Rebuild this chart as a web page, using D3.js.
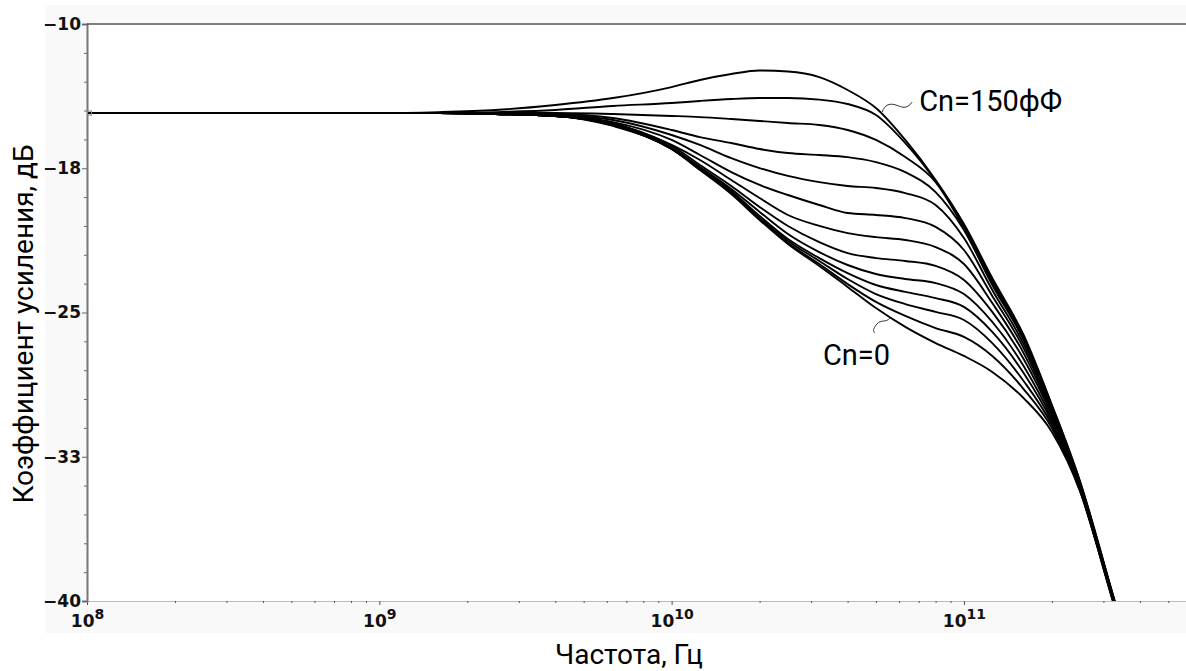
<!DOCTYPE html>
<html>
<head>
<meta charset="utf-8">
<script src="https://cdn.jsdelivr.net/npm/d3@7"></script>
<style>
  body { margin: 0; background: #fff; }
  svg { display: block; }
</style>
</head>
<body>
<div id="chart"></div>
<script>
let width = 1186;
let height = 671;
let margin = ({top: 24, right: 0, bottom: 70, left: 87});

// частота, Гц (общая сетка для всех кривых)
let freqs = [1e8, 1e9, 1.6e9, 2.5e9, 4e9, 6.3e9, 1e10, 1.25e10, 1.6e10, 2e10, 2.5e10, 3.2e10,
             4e10, 5e10, 6.3e10, 8e10, 1e11, 1.25e11, 1.6e11, 2e11, 2.5e11, 3.2e11, 3.5e11];

// коэффициент усиления, дБ — сверху (Cn=150фФ) вниз (Cn=0)
let curve1  = [-14.63,-14.63,-14.58,-14.47,-14.21,-13.85,-13.28,-12.91,-12.60,-12.42,-12.47,-12.76,-13.43,-14.37,-16.03,-18.11,-20.40,-23.21,-26.17,-29.81,-33.81,-39.43,-41.51];
let curve2  = [-14.63,-14.63,-14.63,-14.58,-14.47,-14.26,-14.11,-14.00,-13.90,-13.85,-13.85,-13.93,-14.16,-14.73,-16.19,-18.16,-20.45,-23.31,-26.27,-29.86,-33.86,-39.48,-41.51];
let curve3  = [-14.63,-14.63,-14.63,-14.63,-14.63,-14.68,-14.78,-14.84,-14.94,-15.04,-15.15,-15.25,-15.51,-16.03,-16.92,-18.22,-20.61,-23.47,-26.38,-29.91,-33.92,-39.48,-41.51];
let curve4  = [-14.63,-14.63,-14.63,-14.65,-14.68,-14.89,-15.51,-15.88,-16.19,-16.50,-16.71,-16.81,-16.92,-17.18,-17.70,-18.74,-20.71,-23.57,-26.43,-29.97,-33.97,-39.53,-41.56];
let curve5  = [-14.63,-14.63,-14.63,-14.65,-14.73,-14.99,-15.77,-16.29,-16.97,-17.49,-17.90,-18.22,-18.42,-18.53,-18.79,-19.41,-21.13,-23.83,-26.64,-30.07,-34.02,-39.53,-41.56];
let curve6  = [-14.63,-14.63,-14.63,-14.68,-14.78,-15.10,-16.03,-16.81,-17.70,-18.37,-18.89,-19.41,-19.83,-19.93,-20.09,-20.55,-21.75,-24.14,-26.85,-30.17,-34.07,-39.58,-41.61];
let curve7  = [-14.63,-14.63,-14.63,-14.68,-14.78,-15.15,-16.29,-17.07,-18.11,-19.05,-19.93,-20.50,-20.87,-21.08,-21.23,-21.60,-22.48,-24.51,-27.11,-30.28,-34.13,-39.58,-41.61];
let curve8  = [-14.63,-14.63,-14.63,-14.68,-14.78,-15.20,-16.34,-17.33,-18.42,-19.51,-20.50,-21.34,-21.91,-22.17,-22.32,-22.58,-23.31,-24.97,-27.42,-30.38,-34.13,-39.64,-41.66];
let curve9  = [-14.63,-14.63,-14.63,-14.68,-14.78,-15.25,-16.45,-17.44,-18.58,-19.77,-20.92,-21.86,-22.53,-23.00,-23.26,-23.47,-24.04,-25.49,-27.78,-30.54,-34.18,-39.64,-41.66];
let curve10 = [-14.63,-14.63,-14.63,-14.68,-14.78,-15.25,-16.45,-17.49,-18.68,-19.98,-21.18,-22.17,-22.95,-23.57,-23.93,-24.25,-24.71,-26.01,-28.15,-30.69,-34.23,-39.69,-41.71];
let curve11 = [-14.63,-14.63,-14.63,-14.68,-14.78,-15.25,-16.50,-17.54,-18.74,-20.09,-21.28,-22.32,-23.26,-24.04,-24.56,-24.97,-25.39,-26.59,-28.56,-30.85,-34.28,-39.74,-41.71];
let curve12 = [-14.63,-14.63,-14.63,-14.68,-14.78,-15.25,-16.50,-17.54,-18.79,-20.14,-21.39,-22.48,-23.52,-24.45,-25.18,-25.81,-26.27,-27.26,-28.98,-31.01,-34.28,-39.74,-41.77];
let curve13 = [-14.63,-14.63,-14.63,-14.68,-14.78,-15.30,-16.50,-17.59,-18.84,-20.19,-21.44,-22.58,-23.67,-24.77,-25.75,-26.59,-27.26,-28.09,-29.45,-31.21,-34.33,-39.79,-41.77];

let curves = [curve1, curve2, curve3, curve4, curve5, curve6, curve7, curve8, curve9, curve10, curve11, curve12, curve13];

let yTicks = [-10, -17.5, -25, -32.5, -40];
let yTickLabels = ["\u221210", "\u221218", "\u221225", "\u221233", "\u221240"];
let xMajor = [1e8, 1e9, 1e10, 1e11];

// подписи к кривым
let notes = [
    {text: "Cn=150фФ", f: 5.25e10, db: -14.58, dx: 37, dy: -1, side: 1},
    {text: "Cn=0", f: 5.58e10, db: -25.29, dx: -67, dy: 47, side: -1}
];

let svg = d3.select("#chart")
    .append("svg")
    .attr("width", width)
    .attr("height", height)
    .attr("viewBox", [0, 0, width, height]);

let x = d3.scaleLog()
    .domain([1e8, 5.75e11])
    .range([margin.left, width - margin.right]);
let y = d3.scaleLinear()
    .domain([-40, -10])
    .range([height - margin.bottom, margin.top]);

// серый фон панели и белое поле графика
svg.append("rect")
    .attr("x", 45).attr("y", 5)
    .attr("width", width - 45).attr("height", height - margin.bottom + 32 - 5)
    .attr("fill", "#f9f9f9");
svg.append("rect")
    .attr("x", margin.left).attr("y", margin.top)
    .attr("width", width - margin.left - margin.right)
    .attr("height", height - margin.bottom - margin.top)
    .attr("fill", "#fff");

svg.append("clipPath").attr("id", "clip")
    .append("rect")
    .attr("x", margin.left).attr("y", margin.top)
    .attr("width", width - margin.left - margin.right)
    .attr("height", height - margin.bottom - margin.top);

// x axis
let xMinor = [];
xMajor.forEach(dec => { for (let k = 2; k <= 9; k++) if (k * dec <= x.domain()[1]) xMinor.push(k * dec); });

let gxMinor = svg.append("g")
    .attr("transform", `translate(0,${height - margin.bottom})`)
    .call(d3.axisBottom(x).tickValues(xMinor).tickSize(2).tickFormat(""));
gxMinor.select(".domain").attr("stroke", "#bbb");
gxMinor.selectAll(".tick line").attr("stroke", "#555");

let gx = svg.append("g")
    .attr("transform", `translate(0,${height - margin.bottom})`)
    .call(d3.axisBottom(x).tickValues(xMajor).tickSize(4).tickFormat(""));
gx.select(".domain").remove();
gx.selectAll(".tick line").attr("stroke", "#555");
gx.selectAll(".tick").append("text")
    .attr("y", 26)
    .attr("fill", "#111")
    .attr("text-anchor", "middle")
    .style("font", "bold 17px 'DejaVu Sans'")
    .each(function(d) {
        let t = d3.select(this);
        t.append("tspan").text("10");
        t.append("tspan").attr("dy", -8).style("font-size", "14px").text(Math.round(Math.log10(d)));
    });

// y axis
let yMinor = d3.range(-40, -10, 1.5).filter(v => !yTicks.includes(v));
let gyMinor = svg.append("g")
    .attr("transform", `translate(${margin.left},0)`)
    .call(d3.axisLeft(y).tickValues(yMinor).tickSize(3).tickFormat(""));
gyMinor.select(".domain").remove();
gyMinor.selectAll(".tick line").attr("stroke", "#666");

let gy = svg.append("g")
    .attr("transform", `translate(${margin.left},0)`)
    .call(d3.axisLeft(y).tickValues(yTicks).tickSize(5).tickPadding(1)
        .tickFormat((d, i) => yTickLabels[i]));
gy.select(".domain").attr("stroke", "#777").attr("stroke-width", 2);
gy.selectAll(".tick line").attr("stroke", "#666");
gy.selectAll(".tick text")
    .attr("fill", "#111")
    .style("font", "bold 17px 'DejaVu Sans'");

// верхняя граница
svg.append("line")
    .attr("x1", margin.left).attr("x2", width - margin.right)
    .attr("y1", margin.top).attr("y2", margin.top)
    .attr("stroke", "#555").attr("stroke-width", 1.5);

// curves
let line = d3.line()
    .x(d => x(d[0]))
    .y(d => y(d[1]))
    .curve(d3.curveMonotoneX);

svg.append("g")
    .attr("clip-path", "url(#clip)")
    .attr("fill", "none")
    .attr("stroke", "#000")
    .attr("stroke-width", 1.9)
    .selectAll("path")
    .data(curves)
    .join("path")
    .attr("d", d => line(freqs.map((f, i) => [f, d[i]])));

// маркер в начале
svg.append("rect")
    .attr("x", x(freqs[0]) + 0.5).attr("y", y(curve1[0]) - 2)
    .attr("width", 4).attr("height", 4)
    .attr("fill", "none").attr("stroke", "#888");

// подписи с выносками
notes.forEach(n => {
    let px = x(n.f), py = y(n.db);
    let d = n.side > 0
        ? `M${px},${py} c3,-8 8,-9 14,-7 s10,5 16,-3`
        : `M${px},${py} c-4,5 -9,1 -13,6 s-4,7 -2,9`;
    svg.append("path")
        .attr("d", d)
        .attr("fill", "none")
        .attr("stroke", "#333")
        .attr("stroke-width", 1);
    svg.append("text")
        .attr("x", px + n.dx)
        .attr("y", py + n.dy)
        .attr("fill", "#000")
        .style("font", "29px Roboto")
        .text(n.text);
});

// axis titles
svg.append("text")
    .attr("x", 629)
    .attr("y", 664)
    .attr("text-anchor", "middle")
    .style("font", "28px Roboto")
    .text("Частота, Гц");

svg.append("text")
    .attr("transform", "translate(33,324) rotate(-90)")
    .attr("text-anchor", "middle")
    .style("font", "28px Roboto")
    .text("Коэффициент усиления, дБ");
</script>
</body>
</html>
